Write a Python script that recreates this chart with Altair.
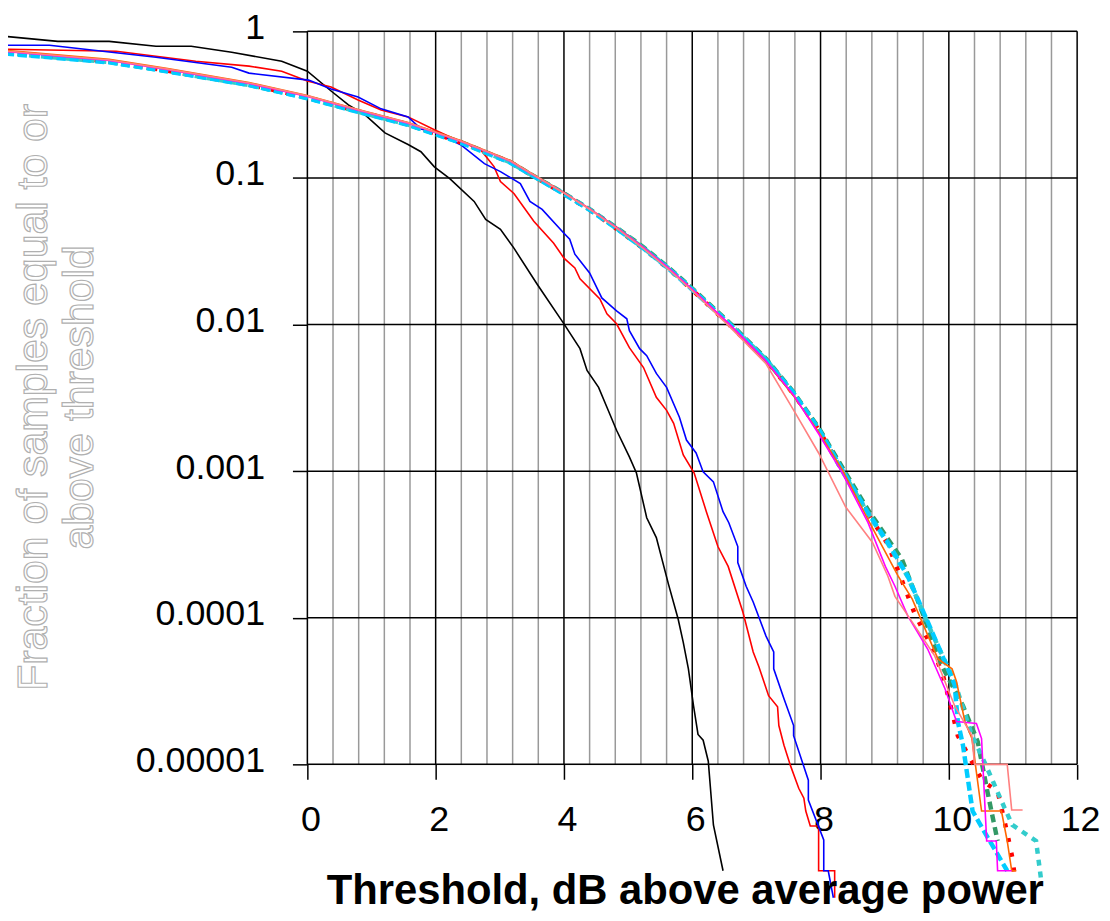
import altair as alt
import pandas as pd

W, H = 774, 737

# ---- axis ticks / labels ----
x_major = [0, 2, 4, 6, 8, 10, 12]
x_minor = [0.4, 0.8, 1.2, 1.6, 2.4, 2.8, 3.2, 3.6, 4.4, 4.8, 5.2, 5.6,
           6.4, 6.8, 7.2, 7.6, 8.4, 8.8, 9.2, 9.6, 10.4, 10.8, 11.2, 11.6]
y_decades = [0.00001, 0.0001, 0.001, 0.01, 0.1, 1]

y_title_1 = "Fraction of samples equal to or"
y_title_2 = "above threshold"
x_title = "Threshold, dB above average power"

# ---- series (dB, fraction) ----
black_x = [-4.71, -3.89, -3.09, -2.36, -1.81, -1.18, -0.40, 0.00, 0.37, 0.64, 0.90, 1.21, 1.57, 1.77,
           1.98, 2.22, 2.60, 2.78, 3.01, 3.22, 3.58, 4.00, 4.25, 4.36, 4.54, 4.67, 4.82, 5.02, 5.13,
           5.29, 5.44, 5.63, 5.78, 5.86, 5.94, 6.02, 6.09, 6.17, 6.25, 6.33, 6.48]
black_y = [0.925, 0.855, 0.855, 0.791, 0.791, 0.721, 0.626, 0.535, 0.392, 0.315, 0.269, 0.203, 0.169,
           0.151, 0.119, 0.099, 0.0692, 0.0522, 0.0447, 0.0332, 0.0189, 0.0101, 0.00685, 0.00486,
           0.00373, 0.00273, 0.00190, 0.00125, 0.000972, 0.000481, 0.000352, 0.000169, 9.8e-5,
           6.8e-5, 4.48e-5, 2.51e-5, 1.6e-5, 1.46e-5, 1.05e-5, 3.86e-6, 1.88e-6]

red_x = [-4.71, -2.98, -1.74, -0.91, -0.40, 0.00, 0.37, 0.79, 1.15, 1.57, 1.98, 2.39, 2.70, 2.91, 3.01,
         3.22, 3.53, 3.84, 4.00, 4.17, 4.25, 4.56, 4.67, 4.82, 5.02, 5.24, 5.44, 5.60, 5.71, 5.86,
         6.03, 6.22, 6.40, 6.56, 6.79, 6.95, 7.04, 7.19, 7.33, 7.35, 7.43, 7.53, 7.66, 7.74, 7.77,
         7.84, 7.97, 7.97, 8.22, 8.22]
red_y = [0.755, 0.732, 0.626, 0.579, 0.535, 0.458, 0.417, 0.340, 0.291, 0.261, 0.213, 0.1766, 0.1559,
         0.1195, 0.0945, 0.0784, 0.0506, 0.0359, 0.0284, 0.0243, 0.0205, 0.01496, 0.01184, 0.01012,
         0.00696, 0.00509, 0.00319, 0.00260, 0.00212, 0.00129, 0.000972, 0.000529, 0.000306,
         0.000224, 0.000109, 5.84e-5, 4.62e-5, 2.94e-5, 2.47e-5, 1.84e-5, 1.35e-5, 9.84e-6, 6.87e-6,
         5.88e-6, 4.80e-6, 3.80e-6, 3.80e-6, 1.88e-6, 1.88e-6, 1.23e-6]

blue_x = [-4.71, -4.02, -2.36, -1.18, -0.91, 0.02, 0.37, 0.79, 1.15, 1.57, 1.77, 1.98, 2.39, 2.76,
          3.01, 3.32, 3.47, 3.66, 4.00, 4.09, 4.17, 4.40, 4.59, 4.82, 4.98, 5.02, 5.18, 5.29, 5.44,
          5.60, 5.80, 5.91, 6.06, 6.17, 6.33, 6.48, 6.57, 6.71, 6.71, 6.84, 6.95, 7.15, 7.27, 7.27,
          7.43, 7.58, 7.58, 7.81, 7.81, 8.05, 8.05, 8.12, 8.20]
blue_y = [0.804, 0.804, 0.666, 0.570, 0.519, 0.465, 0.404, 0.357, 0.296, 0.261, 0.216, 0.206, 0.1685,
          0.1252, 0.1105, 0.0916, 0.0692, 0.0610, 0.0420, 0.0382, 0.0302, 0.0225, 0.01520, 0.01241,
          0.01095, 0.00908, 0.00685, 0.00614, 0.00464, 0.00373, 0.00233, 0.00163, 0.00133, 0.000988,
          0.000845, 0.000529, 0.000445, 0.000306, 0.000238, 0.000164, 0.000128, 7.5e-5, 5.84e-5,
          4.48e-5, 2.80e-5, 1.84e-5, 1.57e-5, 7.79e-6, 5.70e-6, 3.05e-6, 1.88e-6, 1.88e-6, 1.23e-6]

head_x = [-4.71, -3.09, -2.20, -0.91, 0.00, 0.79, 1.57, 2.39, 3.16, 3.47, 4.00, 4.40, 4.82, 5.24,
          5.64, 6.02, 6.57, 7.15, 7.57, 7.97]

reddot_x = head_x + [8.34, 8.74, 9.05, 9.47, 9.75, 9.91, 10.05, 10.14, 10.33, 10.53, 10.76, 10.91,
                     10.99, 11.02]
reddot_y = [0.718, 0.624, 0.541, 0.434, 0.354, 0.285, 0.232, 0.175, 0.128, 0.1060, 0.0778, 0.0606,
            0.0450, 0.0330, 0.0238, 0.01690, 0.01005, 0.00570, 0.00340, 0.00192,
            0.00101, 0.000510, 0.000318, 0.000106, 6.12e-5, 4.02e-5, 2.29e-5, 1.57e-5, 1.10e-5,
            7.67e-6, 6.56e-6, 3.40e-6, 2.30e-6, 1.82e-6]

green_x = head_x + [8.34, 8.74, 9.05, 9.27, 9.60, 9.89, 10.22, 10.45, 10.60, 10.76]
green_y = [0.712, 0.620, 0.538, 0.432, 0.353, 0.284, 0.232, 0.1755, 0.1285, 0.1068, 0.0785, 0.0612,
           0.0458, 0.0337, 0.0243, 0.01730, 0.01040, 0.00585, 0.00350, 0.00198,
           0.00106, 0.000545, 0.000345, 0.00025, 0.000105, 4.70e-5, 2.51e-5, 1.43e-5, 6.56e-6, 3.0e-6]

turq_x = head_x + [8.34, 8.74, 9.05, 9.36, 9.74, 10.09, 10.36, 10.51, 10.87, 10.99, 11.36, 11.44]
turq_y = [0.708, 0.618, 0.537, 0.431, 0.351, 0.283, 0.231, 0.1745, 0.1280, 0.1062, 0.0780, 0.0608,
          0.0453, 0.0332, 0.0240, 0.01705, 0.01025, 0.00578, 0.00345, 0.00193,
          0.00100, 0.000515, 0.000320, 0.000190, 7.8e-5, 3.66e-5, 1.57e-5, 1.15e-5, 5.03e-6,
          3.86e-6, 3.0e-6, 1.61e-6]

sky_x = head_x + [8.34, 8.74, 9.05, 9.36, 9.74, 9.94, 10.09, 10.14, 10.22, 10.37, 10.60, 10.91]
sky_y = [0.705, 0.615, 0.535, 0.430, 0.350, 0.282, 0.230, 0.174, 0.1275, 0.1060, 0.0778, 0.0607,
         0.0452, 0.0331, 0.0239, 0.01700, 0.01020, 0.00575, 0.00345, 0.00194,
         0.00102, 0.000520, 0.000326, 0.000192, 7.99e-5, 5.0e-5, 3.5e-5, 1.96e-5, 1.35e-5, 4.8e-6,
         3.2e-6, 1.88e-6]

orange_x = head_x + [8.34, 8.74, 9.21, 9.43, 9.83, 10.05, 10.12, 10.25, 10.36, 10.51, 10.82, 10.91,
                     10.98, 11.05]
orange_y = [0.743, 0.645, 0.560, 0.448, 0.365, 0.293, 0.239, 0.180, 0.132, 0.1090, 0.0795, 0.0618,
            0.0460, 0.0336, 0.0240, 0.01700, 0.01010, 0.00560, 0.00330, 0.00185,
            0.00102, 0.000467, 0.000192, 0.000134, 5.24e-5, 4.48e-5, 3.66e-5, 1.96e-5, 1.50e-5,
            4.80e-6, 4.80e-6, 3.0e-6, 1.88e-6, 1.88e-6]

magenta_x = head_x + [8.34, 8.74, 9.01, 9.16, 9.36, 9.67, 9.94, 10.12, 10.43, 10.51, 10.59, 10.74,
                      10.76, 10.98]
magenta_y = [0.728, 0.632, 0.550, 0.441, 0.360, 0.290, 0.236, 0.178, 0.1305, 0.1080, 0.0792, 0.0615,
             0.0458, 0.0335, 0.0241, 0.01705, 0.01015, 0.00565, 0.00335, 0.00180,
             0.00097, 0.000445, 0.000224, 0.000164, 0.000103, 6.12e-5, 3.28e-5, 1.96e-5, 1.90e-5,
             1.50e-5, 3.0e-6, 3.0e-6, 1.88e-6, 1.88e-6]

salmon_x = head_x[:18] + [7.61, 7.97, 8.39, 8.81, 9.05, 9.16, 9.43, 9.78, 9.94, 10.09, 10.36, 10.40,
                          10.91, 10.98, 11.15]
salmon_y = [0.735, 0.638, 0.555, 0.445, 0.363, 0.292, 0.238, 0.179, 0.131, 0.1085, 0.0790, 0.0612,
            0.0455, 0.0330, 0.0236, 0.01670, 0.00980, 0.00540,
            0.00248, 0.00133, 0.000571, 0.000326, 0.000192, 0.000140, 9.34e-5, 5.49e-5, 3.66e-5,
            2.51e-5, 1.57e-5, 1.0e-5, 1.0e-5, 4.88e-6, 4.88e-6]

# name, xs, ys, color, width, dash
series = [
    ("black", black_x, black_y, "#000000", 1.6, None),
    ("red", red_x, red_y, "#FF0000", 1.6, None),
    ("blue", blue_x, blue_y, "#0000FF", 1.6, None),
    ("reddot", reddot_x, reddot_y, "#FF0000", 4.5, [4, 11]),
    ("green", green_x, green_y, "#339966", 4.5, [8, 5]),
    ("turq", turq_x, turq_y, "#33CCCC", 4.5, [6, 6]),
    ("sky", sky_x, sky_y, "#00CCFF", 4.5, [9, 4]),
    ("orange", orange_x, orange_y, "#FF6600", 1.6, None),
    ("magenta", magenta_x, magenta_y, "#FF00FF", 1.6, None),
    ("salmon", salmon_x, salmon_y, "#FF8080", 1.6, None),
]

FONT = "Liberation Sans"
xs = alt.Scale(domain=[0, 12], nice=False, zero=False)
ys = alt.Scale(type="log", domain=[0.00001, 1], nice=False)

ax_x = alt.Axis(values=x_major, domain=False, grid=False, ticks=True, tickSize=15, tickColor="black",
                tickWidth=1.5, labelFontSize=36, labelFont=FONT, labelColor="black",
                labelBaseline="alphabetic", labelPadding=52, labelOffset=3, labelFlush=False,
                labelOverlap=False, title=None)
ax_y = alt.Axis(values=y_decades, format=".5~f", domain=False, grid=False, ticks=True, tickSize=15,
                tickColor="black", tickWidth=1.5, labelFontSize=36, labelFont=FONT,
                labelColor="black", labelBaseline="middle", labelOffset=-4, labelPadding=28,
                labelFlush=False, labelOverlap=False, title=None)

minor_rules = alt.Chart(pd.DataFrame({"x": x_minor})).mark_rule(
    color="#999999", strokeWidth=1.5).encode(
    x=alt.X("x:Q", scale=xs, axis=ax_x), y=alt.value(0), y2=alt.value(H))
major_rules = alt.Chart(pd.DataFrame({"x": x_major})).mark_rule(
    color="#000000", strokeWidth=1.5).encode(
    x=alt.X("x:Q", scale=xs, axis=ax_x), y=alt.value(0), y2=alt.value(H))
h_rules = alt.Chart(pd.DataFrame({"y": y_decades})).mark_rule(
    color="#000000", strokeWidth=1.5).encode(
    y=alt.Y("y:Q", scale=ys, axis=ax_y), x=alt.value(0), x2=alt.value(W))

layers = [minor_rules, major_rules, h_rules]
for name, sx, sy, col, sw, dash in series:
    df = pd.DataFrame({"x": sx, "y": sy, "i": list(range(len(sx)))})
    kw = dict(color=col, strokeWidth=sw, clip=False, strokeJoin="miter", strokeCap="butt")
    if dash:
        kw["strokeDash"] = dash
    layers.append(alt.Chart(df).mark_line(**kw).encode(
        x=alt.X("x:Q", scale=xs, axis=ax_x),
        y=alt.Y("y:Q", scale=ys, axis=ax_y),
        order="i:Q"))

t1 = alt.Chart(pd.DataFrame({"t": [y_title_1]})).mark_text(
    angle=270, fontSize=43, font=FONT, fill="white", stroke="#b0b0b0", strokeWidth=1.2,
    align="center", baseline="middle").encode(text="t:N", x=alt.value(-275), y=alt.value(368))
t2 = alt.Chart(pd.DataFrame({"t": [y_title_2]})).mark_text(
    angle=270, fontSize=43, font=FONT, fill="white", stroke="#b0b0b0", strokeWidth=1.2,
    align="center", baseline="middle").encode(text="t:N", x=alt.value(-229), y=alt.value(368))
t3 = alt.Chart(pd.DataFrame({"t": [x_title]})).mark_text(
    fontSize=42, font=FONT, fontWeight="bold", color="black",
    align="center", baseline="alphabetic").encode(text="t:N", x=alt.value(380), y=alt.value(877))
layers += [t1, t2, t3]

chart = alt.layer(*layers).properties(
    width=W, height=H,
    autosize=alt.AutoSizeParams(type="none"),
    padding={"left": 301, "top": 21, "right": 25, "bottom": 152},
).configure_view(stroke=None).configure(background="white")

chart.save("out.html", embed_options={"renderer": "svg", "actions": False})
